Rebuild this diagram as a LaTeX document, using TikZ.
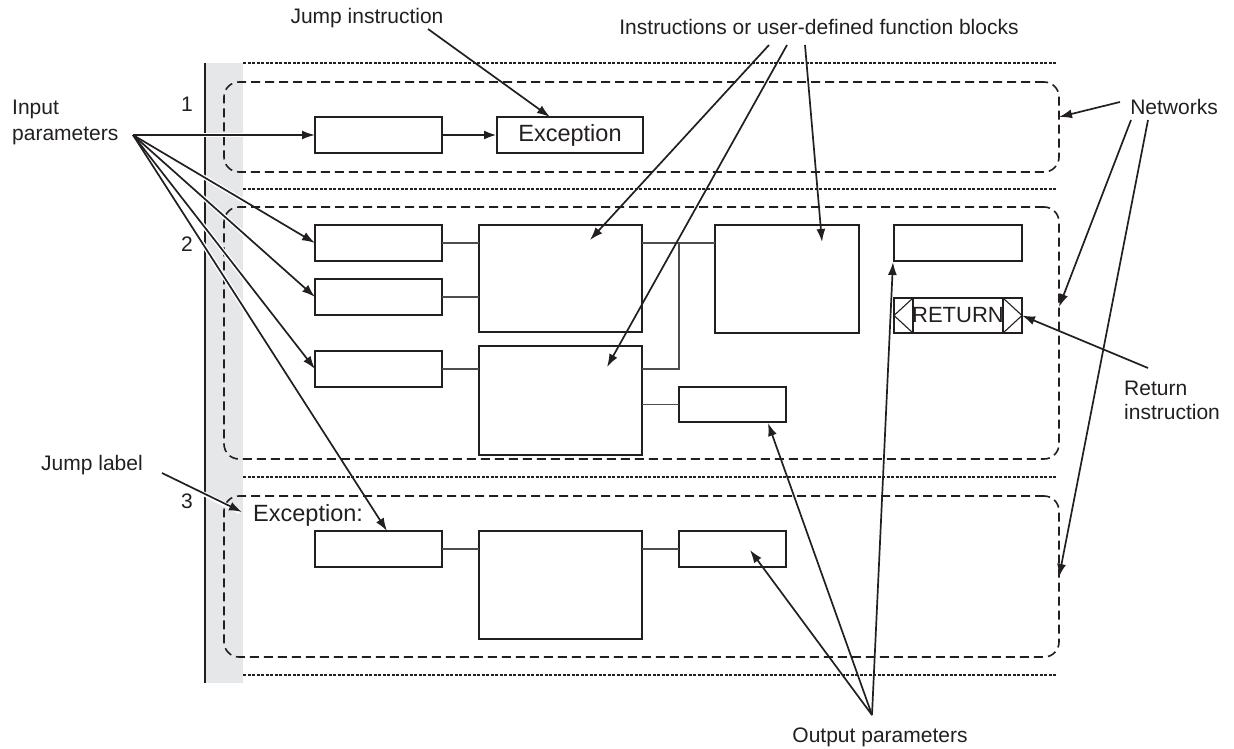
\documentclass[tikz,border=0pt]{standalone}
\usepackage{fontspec}
\setmainfont{Liberation Sans}
\usetikzlibrary{arrows.meta,calc}
\definecolor{ink}{HTML}{231F20}
\definecolor{band}{HTML}{E6E7E8}
\definecolor{wire}{HTML}{4D4D4F}
\tikzset{
  box/.style={draw=ink, line width=1.9pt, fill=white, inner sep=0pt, outer sep=0pt, anchor=north west},
  netbox/.style={draw=ink, line width=1.6pt, dash pattern=on 9pt off 5pt, rounded corners=15pt, inner sep=0pt, outer sep=0pt, anchor=north west},
  dotline/.style={draw=ink, line width=1.4pt, dash pattern=on 3pt off 1.5pt},
  wireline/.style={draw=wire, line width=1.3pt},
  lead/.style={draw=ink, line width=1.7pt, -{Latex[length=13pt,width=9pt]}},
  halo/.style={draw=white, line width=4.5pt},
  lbl/.style={text=ink, font=\fontsize{21}{25}\selectfont, inner sep=0pt},
  big/.style={text=ink, font=\fontsize{23.5}{27}\selectfont, inner sep=0pt}
}
\begin{document}
\begin{tikzpicture}[x=1pt,y=-1pt]
\useasboundingbox (0,0) rectangle (1234,749);
% gray rail
\fill[band] (205,63) rectangle (243,683);
\draw[ink, line width=2.2pt] (205,63) -- (205,683);
% dotted separators
\draw[dotline] (243,63) -- (1057,63);
\draw[dotline] (243,189) -- (1057,189);
\draw[dotline] (243,477) -- (1057,477);
\draw[dotline] (243,675) -- (1057,675);
% networks
\node[netbox, minimum width=835pt, minimum height=90pt] (net1) at (224,82) {};
\node[netbox, minimum width=835pt, minimum height=252pt] (net2) at (224,207) {};
\node[netbox, minimum width=835pt, minimum height=161pt] (net3) at (224,496) {};
% numbers
\node[lbl] (n1) at (187,104) {1};
\node[lbl] (n2) at (187,244) {2};
\node[lbl] (n3) at (187,501) {3};
% network 1
\node[box, minimum width=127pt, minimum height=36pt] (a1) at (315,117) {};
\node[box, minimum width=146pt, minimum height=36pt, font=\fontsize{23.5}{27}\selectfont, text=ink] (exc) at (497,117) {Exception};
\draw[ink, line width=2.6pt, -{Latex[length=13pt,width=9pt]}] (a1.east) -- (exc.west);
% network 2
\node[box, minimum width=127pt, minimum height=36pt] (b1) at (315,225) {};
\node[box, minimum width=127pt, minimum height=36pt] (b2) at (315,279) {};
\node[box, minimum width=127pt, minimum height=36pt] (b3) at (315,351) {};
\node[box, minimum width=163pt, minimum height=107pt] (f1) at (479,225) {};
\node[box, minimum width=163pt, minimum height=109pt] (f2) at (479,346) {};
\node[box, minimum width=144pt, minimum height=108pt] (f3) at (715,225) {};
\node[box, minimum width=107pt, minimum height=35pt] (o1) at (679,387) {};
\node[box, minimum width=128pt, minimum height=36pt] (rt) at (894,225) {};
\node[box, minimum width=128pt, minimum height=35pt, font=\fontsize{22}{25}\selectfont, text=ink] (ret) at (894,298) {RETURN};
\draw[ink, line width=1.3pt] ($(ret.north west)+(19,0)$) -- ($(ret.south west)+(19,0)$);
\draw[ink, line width=1.3pt] ($(ret.north east)+(-19,0)$) -- ($(ret.south east)+(-19,0)$);
\draw[ink, line width=1.1pt] ($(ret.north west)+(19,0)$) -- (ret.west) -- ($(ret.south west)+(19,0)$);
\draw[ink, line width=1.1pt] ($(ret.north east)+(-19,0)$) -- (ret.east) -- ($(ret.south east)+(-19,0)$);
% wires net 2
\draw[wireline] (b1.east) -- (b1.east -| f1.west);
\draw[wireline] (b2.east) -- (b2.east -| f1.west);
\draw[wireline] (b3.east) -- (b3.east -| f2.west);
\draw[wireline] (b1.east -| f1.east) -- (b1.east -| f3.west);
\draw[wireline] (b3.east -| f2.east) -- (b3.east -| o1.west) |- (rt.west -| f3.west);
\draw[wireline] (o1.west -| f2.east) -- (o1.west);
% network 3
\node[lbl, anchor=west, font=\fontsize{23.5}{27}\selectfont] (exl) at (253,515) {Exception:};
\node[box, minimum width=127pt, minimum height=36pt] (c1) at (315,531) {};
\node[box, minimum width=163pt, minimum height=108pt] (c2) at (479,531) {};
\node[box, minimum width=107pt, minimum height=36pt] (c3) at (679,531) {};
\draw[wireline] (c1.east) -- (c1.east -| c2.west);
\draw[wireline] (c3.west -| c2.east) -- (c3.west);
% labels
\node[lbl] (tjump) at (367,18) {Jump instruction};
\node[lbl] (tinstr) at (819,27) {Instructions or user-defined function blocks};
\node[lbl, anchor=west, align=left, font=\fontsize{21}{26}\selectfont] (tinput) at (12,122) {Input\\parameters};
\node[lbl] (tnet) at (1174,107) {Networks};
\node[lbl, anchor=west, align=left, font=\fontsize{21}{24}\selectfont] (tret) at (1124,400) {Return\\instruction};
\node[lbl] (tjl) at (92,465) {Jump label};
\node[lbl] (tout) at (880,737) {Output parameters};
% leader origins
\coordinate (pin) at (133,135);
\coordinate (pjump) at (428,29);
\coordinate (pi1) at (769,45);
\coordinate (pi2) at (787,45);
\coordinate (pi3) at (805,45);
\coordinate (pn1) at (1120,102);
\coordinate (pn2) at (1131,120);
\coordinate (pn3) at (1148,120);
\coordinate (pret) at (1148,368);
\coordinate (pjl) at (162,473);
\coordinate (pout) at (872,715);
\coordinate (c1top) at ($(c1.north west)+(72,0)$);
% halos across the rail
\begin{scope}
\clip (199,60) rectangle (249,690);
\draw[halo] (pin) -- (a1.west);
\draw[halo] (pin) -- (b1.west);
\draw[halo] (pin) -- (b2.west);
\draw[halo] (pin) -- (b3.west);
\draw[halo] (pin) -- (c1top);
\draw[halo] (pjl) -- (240,512);
\end{scope}
% input leaders
\draw[lead] (pin) -- (a1.west);
\draw[lead] (pin) -- (b1.west);
\draw[lead] (pin) -- (b2.west);
\draw[lead] (pin) -- (b3.west);
\draw[lead] (pin) -- (c1top);
% others
\draw[lead] (pjump) -- ($(exc.north)+(-20,0)$);
\draw[lead] (pi1) -- ($(f1.north west)+(111,15)$);
\draw[lead] (pi2) -- ($(f2.north west)+(128,21)$);
\draw[lead] (pi3) -- ($(f3.north west)+(107,17)$);
\draw[lead] (pn1) -- ($(net1.north east)+(0,35)$);
\draw[lead] (pn2) -- ($(net2.north east)+(0,100)$);
\draw[lead] (pn3) -- ($(net3.north east)+(0,81)$);
\draw[lead] (pret) -- (ret.east);
\draw[lead] (pjl) -- ($(net3.north west)+(18,16)$);
\draw[lead] (pout) -- ($(o1.south west)+(89,1)$);
\draw[lead] (pout) -- ($(c3.north west)+(71,19)$);
\draw[lead] (pout) -- ($(rt.south west)+(-1,1)$);
\end{tikzpicture}
\end{document}
